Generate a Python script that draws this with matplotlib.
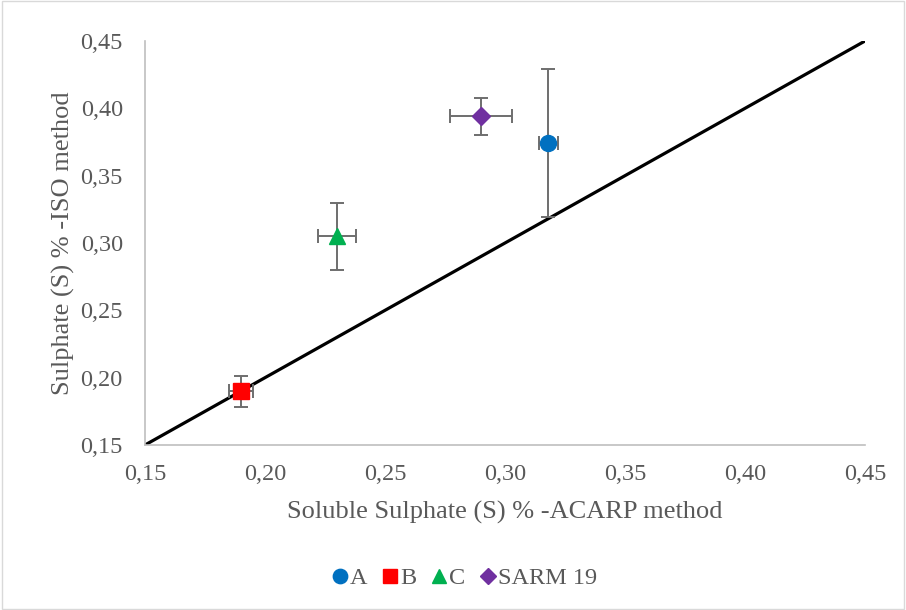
import numpy as np
import matplotlib.pyplot as plt
from matplotlib.patches import Rectangle

plt.rcParams['font.family'] = ['Liberation Serif', 'DejaVu Serif']

# data
names = ['A', 'B', 'C', 'SARM 19']
acarp = [0.318, 0.19, 0.23, 0.29]
iso = [0.374, 0.19, 0.305, 0.394]
acarp_err = [0.004, 0.005, 0.008, 0.013]
iso_err = [0.055, 0.0115, 0.025, 0.0135]
colors = ['#0070C0', '#FF0000', '#00B050', '#7030A0']
markers = ['o', 's', '^', 'D']
sizes = [11.5, 11, 11.5, 9.5]
line_x = [0.15, 0.45]
line_y = [0.15, 0.45]

ticks = [0.15, 0.20, 0.25, 0.30, 0.35, 0.40, 0.45]
tick_labels = ['0,15', '0,20', '0,25', '0,30', '0,35', '0,40', '0,45']

txt = '#595959'

fig = plt.figure(figsize=(9.06, 6.10), dpi=100)
ax = fig.add_axes([145 / 906, 1 - 445 / 610, 720 / 906, 404 / 610])

ax.plot(line_x, line_y, color='black', lw=2.3, zorder=2, solid_capstyle='butt')

handles = []
for i in range(len(names)):
    ax.errorbar(acarp[i], iso[i], xerr=acarp_err[i], yerr=iso_err[i],
                fmt='none', ecolor='#6E6E6E', elinewidth=1.4, capsize=4.8,
                capthick=1.4, zorder=3)
    h, = ax.plot(acarp[i], iso[i], linestyle='none', marker=markers[i],
                 color=colors[i], markersize=sizes[i], zorder=4, label=names[i])
    handles.append(h)

ax.set_xlim(0.15, 0.45)
ax.set_ylim(0.15, 0.45)
ax.set_xticks(ticks)
ax.set_xticklabels(tick_labels)
ax.set_yticks(ticks)
ax.set_yticklabels(tick_labels)
ax.tick_params(length=0, labelsize=17.5, colors=txt)
ax.tick_params(axis='x', pad=14)
ax.tick_params(axis='y', pad=16)

for s in ['top', 'right']:
    ax.spines[s].set_visible(False)
for s in ['left', 'bottom']:
    ax.spines[s].set_color('#BFBFBF')
    ax.spines[s].set_linewidth(1.2)

ax.set_xlabel('Soluble Sulphate (S) % -ACARP method', fontsize=19, color=txt, labelpad=11)
ax.set_ylabel('Sulphate (S) % -ISO method', fontsize=19, color=txt, labelpad=4)

fig.legend(handles=handles, loc='center', bbox_to_anchor=(465 / 906, 1 - 578 / 610),
           ncol=4, frameon=False, fontsize=17.5, labelcolor=txt, markerscale=0.9,
           handlelength=0.6, handletextpad=0.1, columnspacing=0.65)

fig.patches.append(Rectangle((0.002, 0.002), 0.996, 0.996, transform=fig.transFigure,
                             fill=False, edgecolor='#D9D9D9', lw=1))

fig.savefig('out.png', dpi=100)
